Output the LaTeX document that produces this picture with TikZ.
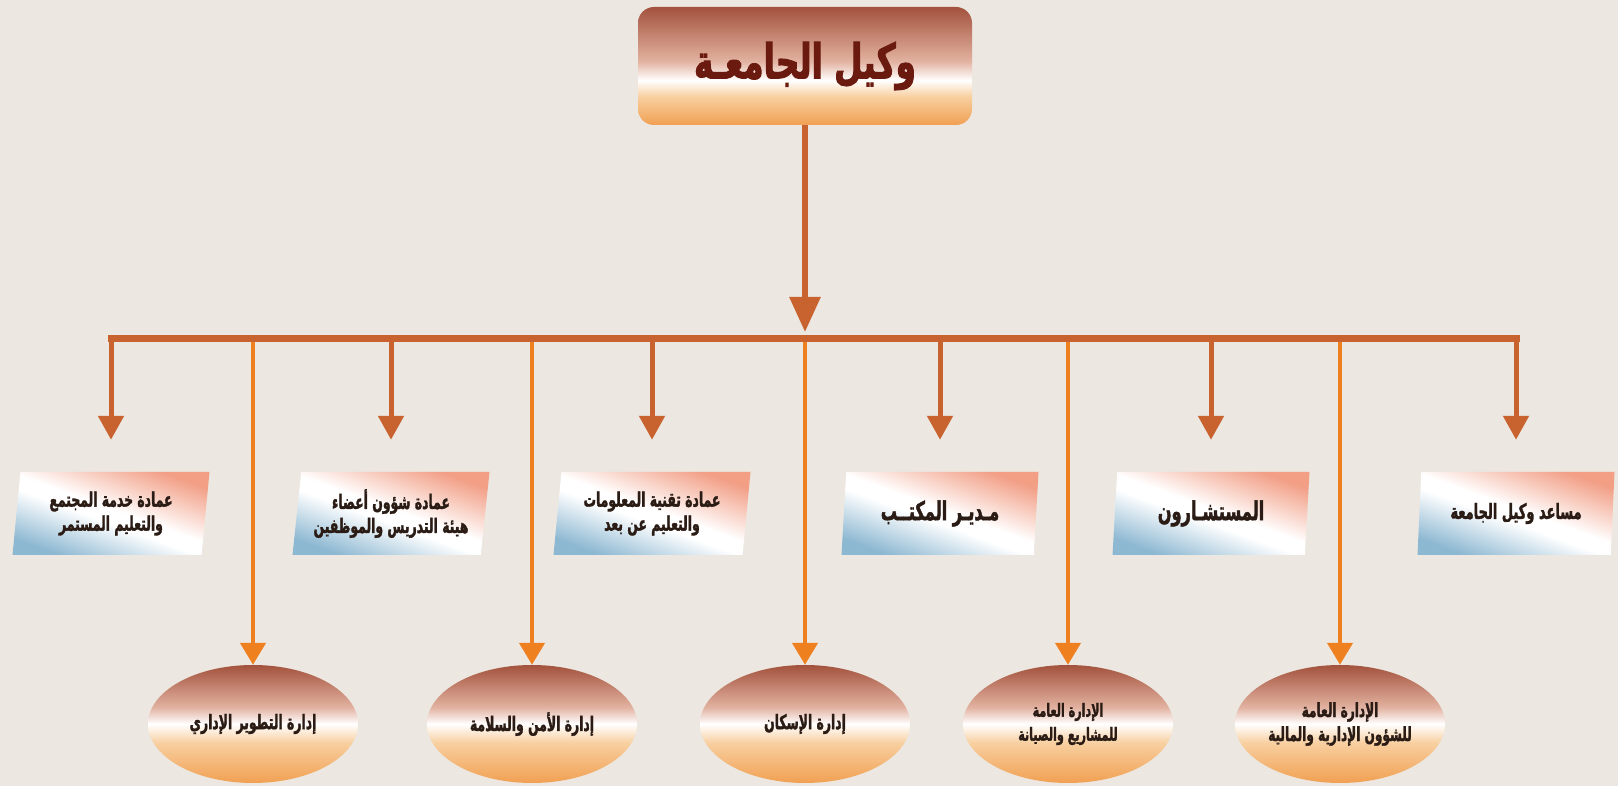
\documentclass[tikz,border=0pt]{standalone}
\usepackage{fontspec}
\usetikzlibrary{shapes.geometric,arrows.meta,calc}
\TeXXeTstate=1
\newfontfamily\arheavy[Script=Arabic, FakeStretch=0.62, FakeBold=1.6]{DejaVu Sans Bold}
\newfontfamily\artop[Script=Arabic, FakeStretch=0.68, FakeBold=2]{DejaVu Sans Bold}
\definecolor{bgc}{HTML}{ECE7E0}
\definecolor{busc}{HTML}{C8632F}
\definecolor{linec}{HTML}{EF8020}
\definecolor{otop}{HTML}{A3523D}
\definecolor{plite}{HTML}{E2B2A0}
\definecolor{olite}{HTML}{F8CFA0}
\definecolor{obot}{HTML}{F1A052}
\definecolor{psal}{HTML}{F29F86}
\definecolor{pblue}{HTML}{8DB8D2}
\definecolor{txt}{HTML}{2A1C15}
\definecolor{toptext}{HTML}{6A1A0E}
\pgfdeclareverticalshading{topshade}{100bp}{color(0bp)=(obot); color(25bp)=(obot); color(37bp)=(olite); color(44bp)=(white); color(52bp)=(plite); color(75bp)=(otop); color(100bp)=(otop)}
\pgfdeclareverticalshading{ellshade}{100bp}{color(0bp)=(obot); color(25bp)=(obot); color(42bp)=(olite); color(50bp)=(white); color(57bp)=(plite); color(75bp)=(otop); color(100bp)=(otop)}
\pgfdeclareverticalshading{parshade}{100bp}{color(0bp)=(pblue); color(25bp)=(pblue); color(46bp)=(white); color(52bp)=(white); color(75bp)=(psal); color(100bp)=(psal)}
\begin{document}
\begin{tikzpicture}[x=1pt,y=1pt,
  topbox/.style={rounded corners=16pt, shading=topshade, minimum width=334pt, minimum height=118pt, inner sep=0pt, text=toptext, font=\artop\fontsize{48}{52}\selectfont},
  parbox/.style={trapezium, trapezium left angle=79.8, trapezium right angle=100.2, trapezium stretches body, minimum width=197pt, minimum height=83pt, inner sep=0pt, shading=parshade, shading angle=-20, text=txt, align=center, font=\arheavy\fontsize{20}{24}\selectfont},
  parbig/.style={parbox, font=\arheavy\fontsize{26}{28}\selectfont},
  parmid/.style={parbox, font=\arheavy\fontsize{21}{24}\selectfont},
  ellbox/.style={ellipse, minimum width=210pt, minimum height=118pt, inner sep=0pt, shading=ellshade, text=txt, align=center, font=\arheavy\fontsize{20}{24}\selectfont},
  elltwo/.style={ellbox, font=\arheavy\fontsize{18}{24}\selectfont},
  ellwide/.style={ellbox, font=\arheavy\fontsize{19.5}{24}\selectfont},
  busline/.style={draw=busc, line width=7pt, line cap=rect},
  trunk/.style={draw=busc, line width=6pt, -{Triangle[length=35pt,width=30pt]}},
  sarrow/.style={draw=busc, line width=5pt, -{Triangle[length=24pt,width=25pt]}},
  larrow/.style={draw=linec, line width=4.5pt, -{Triangle[length=22pt,width=25pt]}}
]
\useasboundingbox (0,0) rectangle (1618,786);
\fill[bgc] (0,0) rectangle (1618,786);

% top node
\node[topbox] (vk) at (805,720) {\beginR وكيل الجامعـة\endR};

% parallelograms
\node[parbox] (p1) at (111,272.5) {\beginR عمادة خدمة المجتمع\endR\\\beginR والتعليم المستمر\endR};
\node[parbox] (p2) at (391,272.5) {\beginR عمادة شؤون أعضاء\endR\\\beginR هيئة التدريس والموظفين\endR};
\node[parbox] (p3) at (652,272.5) {\beginR عمادة تقنية المعلومات\endR\\\beginR والتعليم عن بعد\endR};
\node[parbig] (p4) at (940,272.5) {\beginR مـديـر المكتــب\endR};
\node[parbig] (p5) at (1211,272.5) {\beginR المستشـارون\endR};
\node[parmid] (p6) at (1516,272.5) {\beginR مساعد وكيل الجامعة\endR};

% ellipses
\node[ellbox] (e1) at (253,62) {\beginR إدارة التطوير الإداري\endR};
\node[ellbox] (e2) at (532,62) {\beginR إدارة الأمن والسلامة\endR};
\node[ellbox] (e3) at (805,62) {\beginR إدارة الإسكان\endR};
\node[elltwo] (e4) at (1068,62) {\beginR الإدارة العامة\endR\\\beginR للمشاريع والصيانة\endR};
\node[ellwide] (e5) at (1340,62) {\beginR الإدارة العامة\endR\\\beginR للشؤون الإدارية والمالية\endR};

\coordinate (bc) at (805,447);

% long connectors to ellipses
\foreach \e in {e1,e2,e3,e4,e5}
  \draw[larrow] (\e.north |- bc) -- (\e.north);

% short connectors to parallelograms
\foreach \p in {p1,p2,p3,p4,p5,p6}
  \draw[sarrow] (\p.north |- bc) -- ([yshift=32pt]\p.north);

% bus
\draw[busline] (p1.north |- bc) -- (p6.north |- bc);

% trunk
\draw[trunk] (vk.south) -- ([yshift=7pt]bc);
\end{tikzpicture}
\end{document}
